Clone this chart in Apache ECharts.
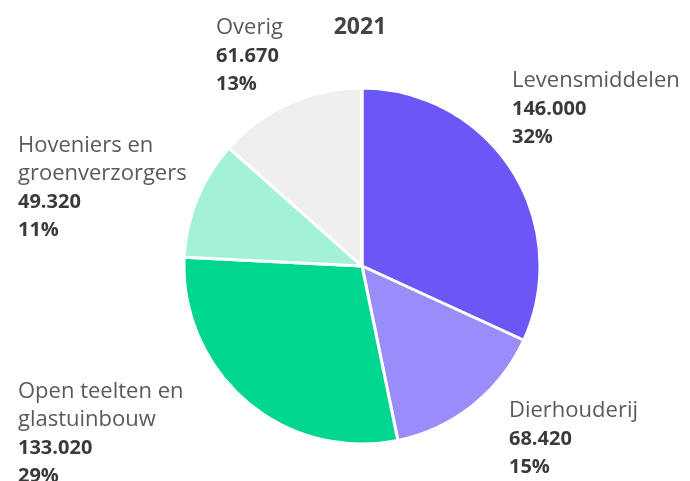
<!DOCTYPE html>
<html><head><meta charset="utf-8">
<script src="https://cdn.jsdelivr.net/npm/echarts@6/dist/echarts.min.js"></script>
<style>html,body{margin:0;padding:0;background:#fff}#c{width:690px;height:481px}</style>
</head><body><div id="c"></div>
<script>
const title = '2021';
const categories = ['Levensmiddelen', 'Dierhouderij', 'Open teelten en\nglastuinbouw', 'Hoveniers en\ngroenverzorgers', 'Overig'];
const values = [146000, 68420, 133020, 49320, 61670];
const colors = ['#6B56F6', '#9A8CF9', '#00D690', '#A3F2D5', '#EFEFEF'];
const labelPos = [[512, 67], [509, 397], [18, 378], [18, 132], [216, 14]];

function fmt(v) { return String(v).replace(/\B(?=(\d{3})+(?!\d))/g, '.'); }

const chart = echarts.init(document.getElementById('c'));
chart.setOption({
  animation: false,
  title: { text: title, left: 355, top: 11, textAlign: 'center',
    textStyle: { fontFamily: 'Open Sans', fontSize: 23, fontWeight: 'bold', color: '#444' } },
  series: [{
    type: 'pie',
    center: [362, 266],
    radius: [0, 178],
    startAngle: 90,
    clockwise: true,
    percentPrecision: 0,
    itemStyle: { borderColor: '#fff', borderWidth: 3 },
    labelLine: { show: false },
    label: {
      show: true,
      position: 'outside',
      overflow: 'none',
      alignTo: 'none',
      formatter: p => p.name.split('\n').map(s => '{n|' + s + '}').join('\n') + '\n{v|' + fmt(p.value) + '}\n{v|' + p.percent + '%}',
      rich: {
        n: { fontFamily: 'Open Sans', fontSize: 22, color: '#5a5a5a', lineHeight: 28 },
        v: { fontFamily: 'Open Sans', fontSize: 20, fontWeight: 'bold', color: '#3a3a3a', lineHeight: 28 }
      }
    },
    labelLayout: p => ({ x: labelPos[p.dataIndex][0], y: labelPos[p.dataIndex][1], align: 'left', verticalAlign: 'top' }),
    data: categories.map((c, i) => ({ name: c, value: values[i], itemStyle: { color: colors[i] } }))
  }]
});
</script></body></html>
